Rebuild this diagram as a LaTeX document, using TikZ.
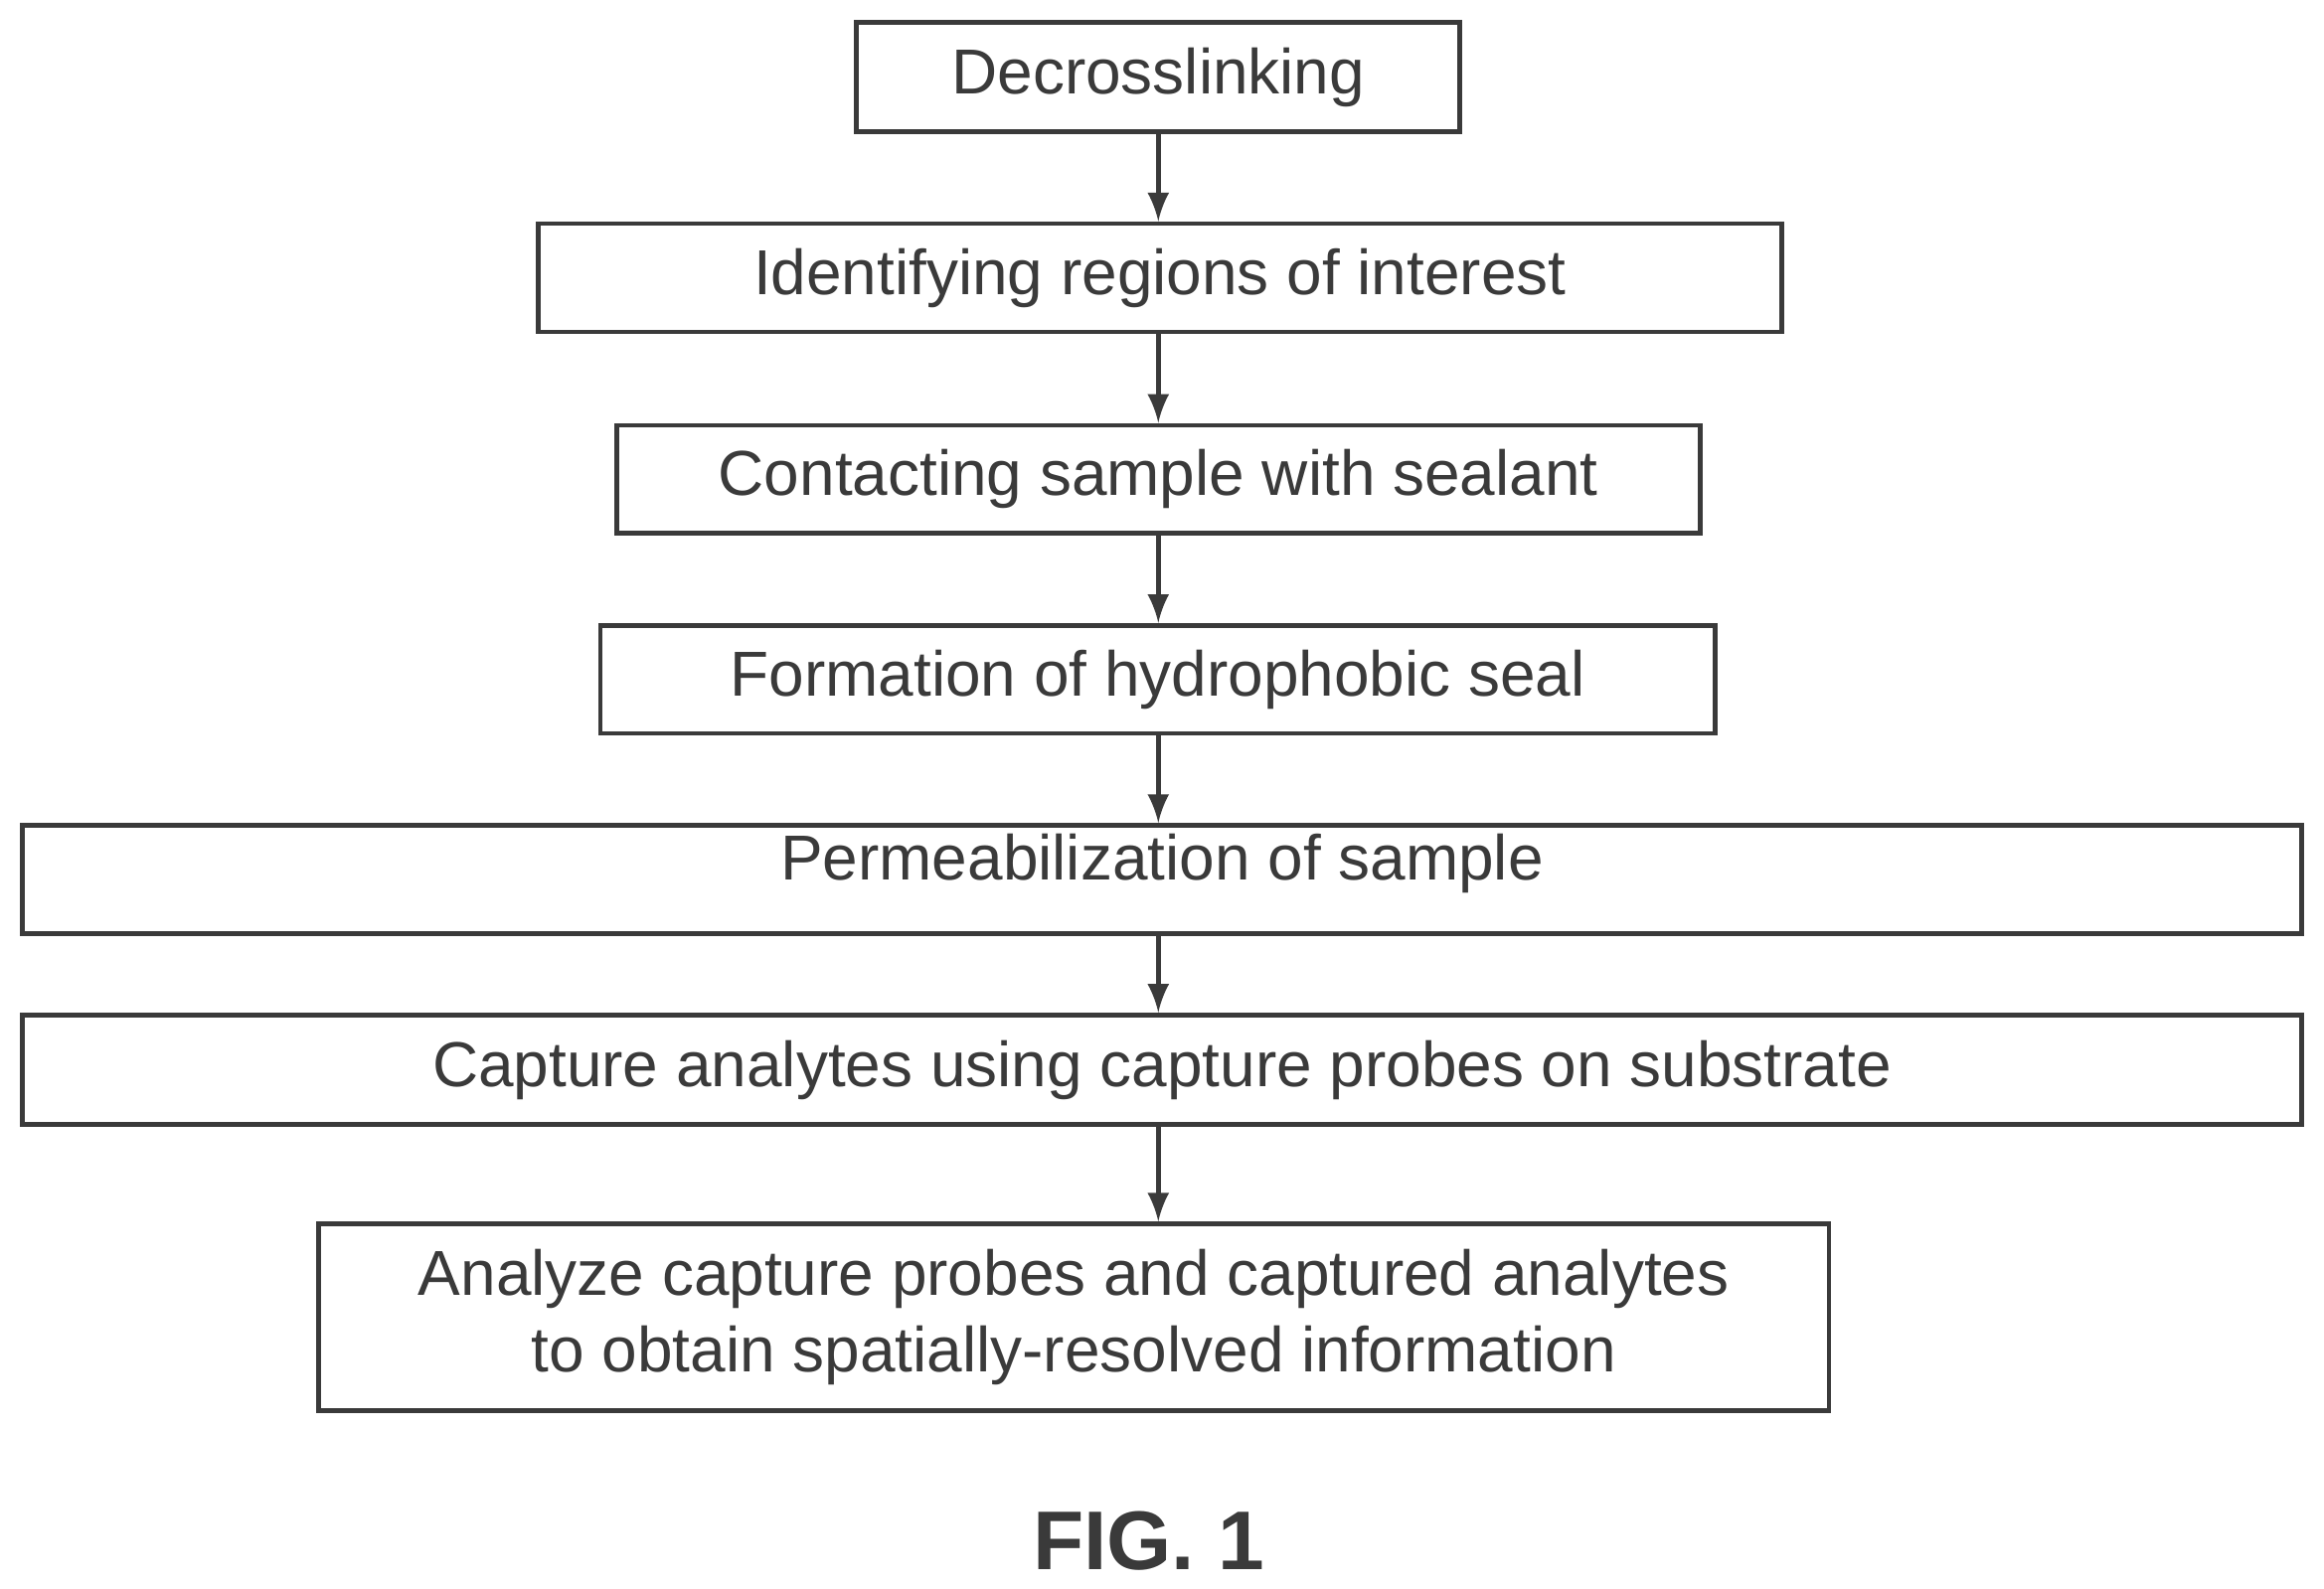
\documentclass[tikz,border=0pt]{standalone}
\usepackage{fontspec}
\setmainfont{Liberation Sans}
\usetikzlibrary{arrows,positioning}
\definecolor{inkgray}{HTML}{3A3A3A}
\tikzset{
  stepbox/.style = {draw=inkgray, line width=0.9pt, text=inkgray, align=center,
                 inner sep=0pt, font=\fontsize{12.2}{14.8}\selectfont},
  flow/.style = {->, draw=inkgray, line width=0.9pt}
}
\begin{document}
\begin{tikzpicture}[>=latex]
\useasboundingbox (0,0) rectangle (15.68,-10.72);

% the steps, top to bottom
\node[stepbox, minimum width=4.07cm, minimum height=0.74cm] (s1) at (7.815,-0.52) {Decrosslinking};
\node[stepbox, minimum width=8.39cm, minimum height=0.73cm] (s2) at (7.825,-1.875) {Identifying regions of interest};
\node[stepbox, minimum width=7.31cm, minimum height=0.73cm] (s3) at (7.815,-3.235) {Contacting sample with sealant};
\node[stepbox, minimum width=7.52cm, minimum height=0.73cm] (s4) at (7.81,-4.585) {Formation of hydrophobic seal};
\node[stepbox, minimum width=15.38cm, minimum height=0.73cm, text depth=0.3cm] (s5) at (7.84,-5.935) {Permeabilization of sample};
\node[stepbox, minimum width=15.38cm, minimum height=0.74cm] (s6) at (7.84,-7.22) {Capture analytes using capture probes on substrate};
\node[stepbox, minimum width=10.19cm, minimum height=1.26cm] (s7) at (7.245,-8.89) {Analyze capture probes and captured analytes\\to obtain spatially-resolved information};

% caption
\node[text=inkgray, font=\fontsize{16}{19}\selectfont\bfseries] (fig) at (7.75,-10.4) {FIG. 1};

% arrows between steps
\foreach \a/\b in {1/2,2/3,3/4,4/5,5/6}
  \draw[flow] (s\a.south -| s1.south) -- (s\b.north -| s1.south);
\draw[flow] (s6.south -| s1.south) -- (s7.north -| s1.south);

\end{tikzpicture}
\end{document}
